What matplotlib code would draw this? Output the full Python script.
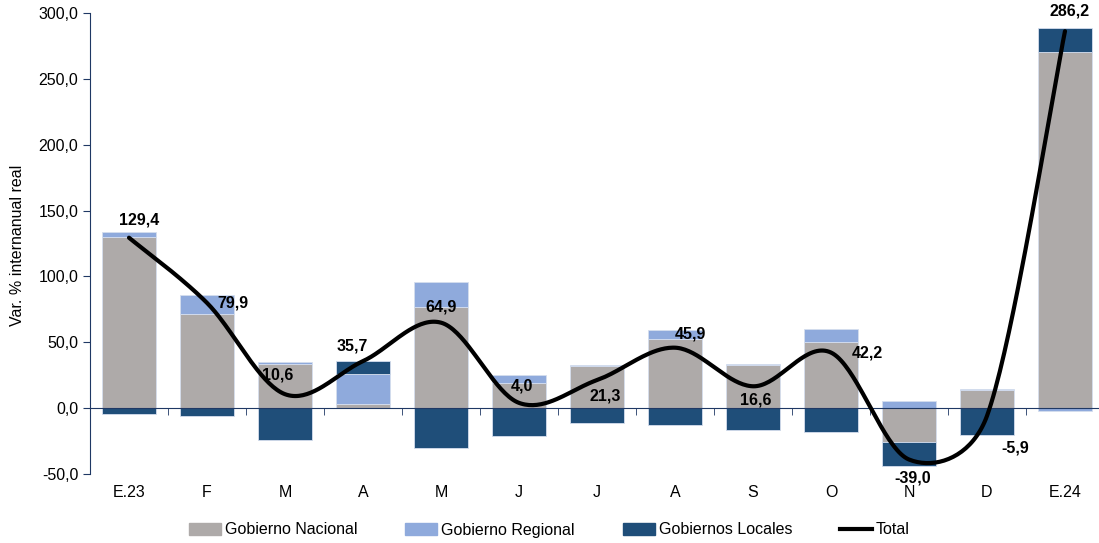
import numpy as np
import matplotlib
matplotlib.use('Agg')
import matplotlib.pyplot as plt
from matplotlib.patches import Patch
from matplotlib.lines import Line2D

plt.rcParams['font.family'] = ['Liberation Sans', 'DejaVu Sans']

# datos
meses = ['E.23', 'F', 'M', 'A', 'M', 'J', 'J', 'A', 'S', 'O', 'N', 'D', 'E.24']
nacional = [130.0, 71.4, 33.4, 3.0, 76.7, 19.0, 32.0, 52.4, 32.6, 50.0, -25.8, 13.7, 270.3]
regional = [3.5, 14.4, 1.6, 22.8, 19.0, 6.0, 1.0, 6.8, 0.8, 10.0, 5.3, 0.8, -2.3]
locales = [-4.5, -6.0, -24.3, 9.9, -30.4, -21.0, -11.4, -13.0, -16.7, -18.0, -18.3, -20.5, 18.2]
total = [129.4, 79.9, 10.6, 35.7, 64.9, 4.0, 21.3, 45.9, 16.6, 42.2, -39.0, -5.9, 286.2]

# desplazamiento de etiquetas (pixeles)
offsets = [(10, 18), (26, 0), (-7, 19), (-11, 15), (0, 16), (3, 17), (8, -16),
           (15, 14), (3, -14), (36, 0), (4, -18), (28, -32), (5, 20)]

c_nac = '#AEAAA9'
c_reg = '#8FAADC'
c_loc = '#1F4E79'
navy = '#1F3864'

fig = plt.figure(figsize=(10.99, 5.43), dpi=100)
ax = fig.add_axes([90 / 1099, 1 - 474 / 543, (1099 - 90) / 1099, (474 - 13) / 543])

x = np.arange(len(meses))
pos_base = np.zeros(len(meses))
neg_base = np.zeros(len(meses))
for vals, col in [(nacional, c_nac), (regional, c_reg), (locales, c_loc)]:
    vals = np.array(vals)
    base = np.where(vals >= 0, pos_base, neg_base)
    ax.bar(x, vals, 0.69, bottom=base, color=col, edgecolor='#D5DEEE', linewidth=0.6, zorder=2)
    pos_base = pos_base + np.where(vals >= 0, vals, 0)
    neg_base = neg_base + np.where(vals < 0, vals, 0)

# linea suavizada tipo Excel (control a 1/6, limitado a medio tramo; en pixeles)
sx, sy = 78.0, 1.317
P = np.column_stack([x * sx, np.array(total) * sy])
n = len(P)
px, py = [], []
for i in range(n - 1):
    p0 = P[max(i - 1, 0)]
    p1 = P[i]
    p2 = P[i + 1]
    p3 = P[min(i + 2, n - 1)]
    d12 = np.hypot(*(p2 - p1))
    d02 = np.hypot(*(p2 - p0))
    d13 = np.hypot(*(p3 - p1))
    f0 = 1 / 6 if d02 / 6 < d12 / 2 else d12 / 2 / d02
    f1 = 1 / 6 if d13 / 6 < d12 / 2 else d12 / 2 / d13
    c1 = p1 + (p2 - p0) * f0
    c2 = p2 - (p3 - p1) * f1
    s = np.linspace(0, 1, 40)[:, None]
    pts = (1 - s) ** 3 * p1 + 3 * (1 - s) ** 2 * s * c1 + 3 * (1 - s) * s ** 2 * c2 + s ** 3 * p2
    px.extend(pts[:, 0] / sx)
    py.extend(pts[:, 1] / sy)
ax.plot(px, py, color='black', linewidth=3, zorder=4, solid_capstyle='round')

for i, v in enumerate(total):
    ax.annotate(f'{v:.1f}'.replace('.', ','), (x[i], v), xytext=offsets[i],
                textcoords='offset pixels', ha='center', va='center',
                fontsize=11.5, fontweight='bold', zorder=5)

ax.set_ylim(-50, 300)
ax.set_xlim(-0.5, 12.436)
ax.set_yticks(np.arange(-50, 301, 50))
ax.set_yticklabels([f'{v:.1f}'.replace('.', ',') for v in np.arange(-50, 301, 50)])
ax.set_xticks(x)
ax.set_xticklabels(meses)
ax.set_xticks(np.arange(0.5, 12, 1), minor=True)

for sp in ['top', 'right']:
    ax.spines[sp].set_visible(False)
ax.spines['left'].set_color(navy)
ax.spines['bottom'].set_color(navy)
ax.spines['bottom'].set_position(('data', 0))
ax.spines['bottom'].set_zorder(3)
ax.tick_params(axis='y', colors=navy, labelcolor='black', labelsize=11.5, length=5, direction='out')
ax.tick_params(axis='x', which='major', length=0, pad=55, labelsize=11.5)
ax.tick_params(axis='x', which='minor', length=5, color=navy, direction='out')

fig.text(18 / 1099, 1 - 245 / 543, 'Var. % internanual real', rotation=90,
         ha='center', va='center', fontsize=11.5)

handles = [Patch(color=c_nac), Patch(color=c_reg), Patch(color=c_loc),
           Line2D([0], [0], color='black', linewidth=3)]
fig.legend(handles, ['Gobierno Nacional', 'Gobierno Regional', 'Gobiernos Locales', 'Total'],
           loc='center', bbox_to_anchor=(0.5, 1 - 530 / 543), ncol=4, frameon=False,
           fontsize=11.5, handlelength=2.0, handletextpad=0.25, columnspacing=3.0)

fig.savefig('out.png', dpi=100)
